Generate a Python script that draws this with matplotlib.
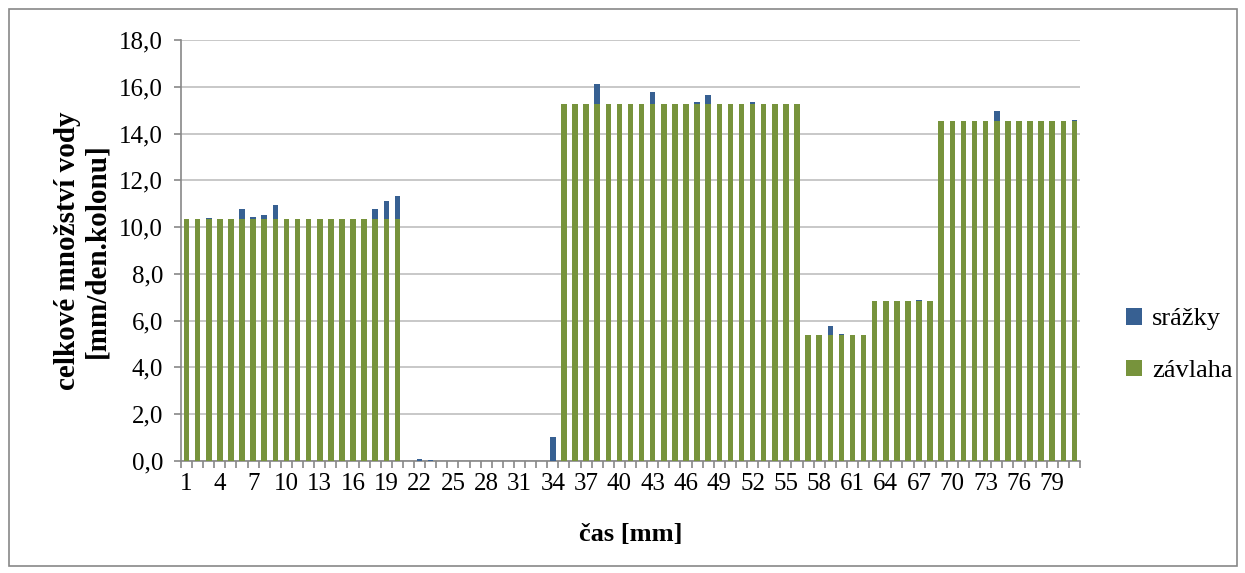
import matplotlib
matplotlib.use("Agg")
import matplotlib.pyplot as plt
from matplotlib.patches import Rectangle
from matplotlib.ticker import FuncFormatter, FixedLocator

# kategorie (cas) 1..81
cas = list(range(1, 82))

zavlaha = [
    10.36, 10.36, 10.36, 10.36, 10.36, 10.36, 10.36, 10.36, 10.36, 10.36,
    10.36, 10.36, 10.36, 10.36, 10.36, 10.36, 10.36, 10.36, 10.36, 10.36,
    0, 0, 0, 0, 0, 0, 0, 0, 0, 0, 0, 0, 0, 0,
    15.27, 15.27, 15.27, 15.27, 15.27, 15.27, 15.27, 15.27, 15.27, 15.27, 15.27,
    15.27, 15.27, 15.27, 15.27, 15.27, 15.27, 15.27, 15.27, 15.27, 15.27, 15.27,
    5.38, 5.38, 5.38, 5.38, 5.38, 5.38,
    6.83, 6.83, 6.83, 6.83, 6.83, 6.83,
    14.55, 14.55, 14.55, 14.55, 14.55, 14.55, 14.55, 14.55, 14.55, 14.55,
    14.55, 14.55, 14.55,
]

srazky = [
    0, 0, 0.05, 0, 0, 0.42, 0.06, 0.14, 0.6, 0,
    0, 0, 0, 0, 0, 0, 0, 0.4, 0.74, 0.95,
    0, 0.07, 0.04, 0, 0, 0, 0, 0, 0, 0, 0, 0, 0, 1.04,
    0, 0, 0, 0.85, 0, 0, 0, 0, 0.5, 0, 0,
    0, 0.1, 0.37, 0, 0, 0, 0.1, 0, 0, 0, 0,
    0, 0, 0.41, 0.04, 0, 0,
    0, 0, 0, 0, 0.05, 0,
    0, 0, 0, 0, 0, 0.4, 0, 0, 0, 0,
    0, 0, 0.03,
]

tick_pos = [c for c in cas if (c - 1) % 3 == 0]
tick_labels = [str(c) for c in tick_pos]

plt.rcParams['font.family'] = ['Liberation Serif', 'DejaVu Serif']

fig = plt.figure(figsize=(12.45, 5.73), dpi=100)
ax = fig.add_axes([181 / 1245, 1 - 461 / 573, (1080 - 181) / 1245, (461 - 40) / 573])

green = '#77933C'
blue = '#376092'
w = 0.5

ax.bar(cas, zavlaha, width=w, color=green, label='závlaha', zorder=3)
ax.bar(cas, srazky, width=w, bottom=zavlaha, color=blue, label='srážky', zorder=3)

ax.set_xlim(0.5, 81.5)
ax.set_ylim(0, 18)
ax.set_yticks([0, 2, 4, 6, 8, 10, 12, 14, 16, 18])
ax.yaxis.set_major_formatter(FuncFormatter(lambda v, p: ('%.1f' % v).replace('.', ',')))
ax.grid(axis='y', color='#BFBFBF', linewidth=1.2, zorder=0)

ax.set_xticks(tick_pos)
ax.set_xticklabels(tick_labels)
ax.xaxis.set_minor_locator(FixedLocator([c + 0.5 for c in range(0, 82)]))
ax.tick_params(axis='x', which='major', length=0, pad=9, labelsize=18)
ax.tick_params(axis='x', which='minor', length=5, color='#878787', width=1.2)
ax.tick_params(axis='y', which='major', length=5, color='#878787', width=1.2, labelsize=18, pad=8)

for s in ['top', 'right']:
    ax.spines[s].set_visible(False)
ax.spines['left'].set_color('#878787')
ax.spines['bottom'].set_color('#878787')
ax.spines['left'].set_linewidth(1.2)
ax.spines['bottom'].set_linewidth(1.2)

ax.set_xlabel('čas [mm]', fontsize=19, fontweight='bold', labelpad=20)
ax.set_ylabel('celkové množství vody\n[mm/den.kolonu]', fontsize=21, fontweight='bold',
              labelpad=6, linespacing=1.15)

handles, labels = ax.get_legend_handles_labels()
leg = fig.legend(handles[::-1], labels[::-1], loc='center left',
                 bbox_to_anchor=(1102 / 1245, 1 - 345 / 573), frameon=False,
                 fontsize=19, handlelength=0.6, handleheight=0.6,
                 labelspacing=1.1, handletextpad=0.4)

fig.patches.append(Rectangle((9 / 1245, 1 - 566 / 573), (1237 - 9) / 1245, (566 - 9) / 573,
                             transform=fig.transFigure, fill=False,
                             edgecolor='#878787', linewidth=1.2))

fig.savefig('out.png', dpi=100)
